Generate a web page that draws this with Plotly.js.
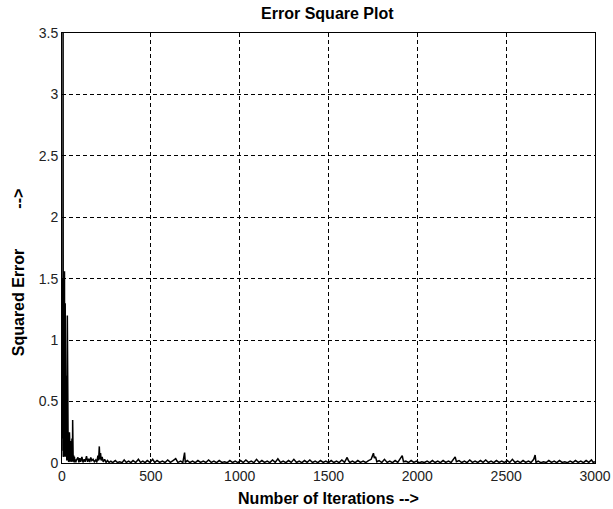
<!DOCTYPE html>
<html>
<head>
<meta charset="utf-8">
<script src="https://cdn.plot.ly/plotly-3.0.1.min.js"></script>
<style>html,body{margin:0;padding:0;background:#fff;}#chart{width:613px;height:509px;}</style>
</head>
<body>
<div id="chart"></div>
<script>
// Iteration numbers and squared error values
var iterations = [
  0,1,2,3,4,5,6,7,8,9,10,11,12,13,14,15,16,17,18,19,20,21,22,23,24,25,26,27,28,29,
  30,31,32,33,34,35,36,37,38,39,40,41,42,43,44,45,46,47,48,49,50,51,52,53,54,55,56,57,58,59,
  60,61,62,63,64,65,66,67,68,69,70,72,75,78,
  80,90,95,100,105,112,118,125,130,138,144,150,156,162,168,175,182,190,196,202,206,210,213,217,221,226,232,240,248,256,265,275,285,
  300,312,325,338,350,362,375,388,400,415,430,442,455,468,480,495,510,522,535,550,565,580,595,610,625,640,652,668,680,690,694,
  705,720,735,750,765,780,795,810,825,840,855,870,885,900,915,930,945,960,975,990,
  1005,1020,1035,1050,1065,1080,1095,1110,1125,1140,1155,1170,1185,1200,1215,1230,1245,1260,1275,1290,
  1305,1320,1335,1350,1365,1380,1395,1410,1425,1440,1455,1470,1485,1500,1515,1530,1545,1560,1575,1590,
  1605,1612,1620,1635,1650,1665,1680,1695,1710,1725,1740,1748,1753,1758,1765,1772,1785,1800,1815,1830,
  1845,1860,1875,1890,1905,1915,1922,1935,1950,1965,1980,1995,2010,2025,2040,2055,2070,2085,2100,2115,
  2130,2145,2160,2175,2190,2205,2213,2220,2235,2250,2265,2280,2295,2310,2325,2340,2355,2370,2385,2400,
  2415,2430,2445,2460,2475,2490,2505,2520,2535,2550,2565,2580,2595,2610,2625,2640,2655,2663,2668,2680,
  2695,2710,2725,2740,2755,2770,2785,2800,2815,2830,2845,2860,2875,2890,2905,2920,2935,2950,2965,2980,
  2990,3000
];
var squaredError = [
  0.9,0.2,1.5,0.3,1.1,0.1,4.2,0.05,1.58,0.2,1.57,0.1,1.55,0.3,1.56,0.05,1.5,0.2,1.3,0.1,1.1,0.3,0.72,0.05,0.71,0.1,0.7,0.02,0.6,0.05,
  1.2,0.02,0.4,0.05,0.3,0.02,0.2,0.01,0.15,0.03,0.1,0.02,0.25,0.01,0.12,0.02,0.22,0.01,0.08,0.03,0.18,0.01,0.06,0.02,0.1,0.01,0.2,0.02,0.05,0.01,
  0.35,0.02,0.08,0.01,0.04,0.02,0.06,0.01,0.03,0.005,0.05,0.01,0.03,0.005,
  0.02,0.045,0.005,0.04,0.01,0.05,0.005,0.03,0.01,0.055,0.01,0.035,0.008,0.045,0.02,0.03,0.01,0.025,0.005,0.06,0.02,0.135,0.03,0.08,0.02,0.05,0.01,0.03,0.005,0.02,0.005,0.015,0.003,
  0.02,0.004,0.01,0.003,0.025,0.005,0.015,0.003,0.02,0.004,0.03,0.005,0.015,0.003,0.02,0.005,0.03,0.004,0.02,0.005,0.015,0.004,0.025,0.005,0.02,0.035,0.005,0.015,0.004,0.085,0.005,
  0.02,0.004,0.015,0.003,0.02,0.005,0.015,0.004,0.025,0.005,0.015,0.003,0.02,0.005,0.01,0.003,0.02,0.004,0.015,0.003,
  0.02,0.004,0.025,0.005,0.015,0.003,0.03,0.004,0.02,0.005,0.015,0.003,0.025,0.005,0.035,0.004,0.015,0.003,0.02,0.005,
  0.03,0.004,0.015,0.003,0.02,0.005,0.025,0.004,0.015,0.003,0.02,0.005,0.015,0.003,0.02,0.004,0.015,0.003,0.025,0.005,
  0.045,0.02,0.004,0.015,0.003,0.02,0.005,0.015,0.004,0.02,0.03,0.06,0.08,0.04,0.05,0.01,0.02,0.004,0.03,0.005,
  0.015,0.003,0.02,0.005,0.04,0.06,0.01,0.015,0.004,0.02,0.005,0.015,0.003,0.01,0.004,0.015,0.003,0.02,0.004,0.015,
  0.003,0.02,0.005,0.015,0.004,0.03,0.05,0.01,0.02,0.004,0.015,0.003,0.025,0.005,0.015,0.004,0.02,0.005,0.025,0.004,
  0.015,0.003,0.02,0.005,0.015,0.004,0.02,0.005,0.03,0.004,0.015,0.003,0.02,0.005,0.015,0.004,0.03,0.065,0.005,0.015,
  0.003,0.01,0.004,0.02,0.005,0.015,0.003,0.02,0.005,0.01,0.003,0.015,0.004,0.02,0.005,0.015,0.003,0.02,0.005,0.025,
  0.004,0.01
];
var xTickVals = [0,500,1000,1500,2000,2500,3000];
var yTickVals = [0,0.5,1,1.5,2,2.5,3,3.5];
var chartTitle = 'Error Square Plot';
var xTitle = 'Number of Iterations -->';
var yTitle = 'Squared Error\u00a0\u00a0\u00a0\u00a0\u00a0\u00a0\u00a0\u00a0\u00a0-->';
var yTitlePad = '\u00a0\u00a0\u00a0\u00a0\u00a0\u00a0\u00a0\u00a0\u00a0\u00a0\u00a0';

var boldFont = {family: '"Liberation Sans", Arial, sans-serif', size: 16, color: '#000', weight: 'bold'};
var tickFont = {family: '"Liberation Sans", Arial, sans-serif', size: 14, color: '#222'};

var trace = {
  x: iterations, y: squaredError, type: 'scatter', mode: 'lines',
  line: {color: '#000', width: 1.5}, hoverinfo: 'none'
};
var axisCommon = {
  showline: true, linecolor: '#000', linewidth: 1, mirror: true,
  showgrid: true, gridcolor: '#000', gridwidth: 1, griddash: '4px,3px',
  zeroline: false, ticks: 'inside', ticklen: 4, tickcolor: '#000',
  tickfont: tickFont
};
var layout = {
  width: 613, height: 509,
  margin: {l: 62, r: 18, t: 33, b: 46},
  paper_bgcolor: '#fff', plot_bgcolor: '#fff',
  showlegend: false,
  title: {text: '<b>' + chartTitle + '</b>', font: boldFont, x: 0.534, xanchor: 'center', y: 0.973, yanchor: 'middle'},
  xaxis: Object.assign({}, axisCommon, {
    range: [0, 3000], tickvals: xTickVals, ticktext: xTickVals.map(String),
    title: {text: '<b>' + xTitle + '</b>', font: boldFont, standoff: 10}
  }),
  yaxis: Object.assign({}, axisCommon, {
    range: [0, 3.5], tickvals: yTickVals, ticktext: yTickVals.map(String),
    title: {text: '<b>' + yTitle + yTitlePad + '</b>', font: boldFont, standoff: 10}
  })
};
Plotly.newPlot('chart', [trace], layout, {staticPlot: true, displayModeBar: false});
</script>
</body>
</html>
